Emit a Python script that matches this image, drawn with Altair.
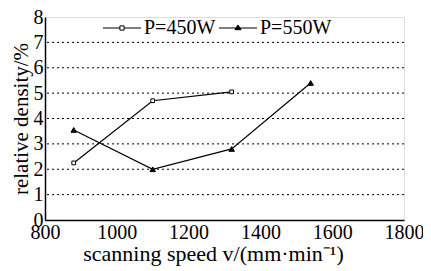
import altair as alt
import pandas as pd

series_names = ["P=450W", "P=550W"]
speed_450 = [880, 1100, 1320]
dens_450 = [2.25, 4.7, 5.05]
speed_550 = [880, 1100, 1320, 1540]
dens_550 = [3.55, 2.0, 2.8, 5.4]
x_ticks = [800, 1000, 1200, 1400, 1600, 1800]
y_ticks = [0, 1, 2, 3, 4, 5, 6, 7, 8]
grid_vals = [1, 2, 3, 4, 5, 6, 7]

rows = []
for s, d in zip(speed_450, dens_450):
    rows.append({"speed": s, "density": d, "series": series_names[0]})
for s, d in zip(speed_550, dens_550):
    rows.append({"speed": s, "density": d, "series": series_names[1]})
df = pd.DataFrame(rows)
grid_df = pd.DataFrame({"g": grid_vals})

FONT = "Liberation Serif"

x_scale = alt.Scale(domain=[800, 1800], nice=False)
y_scale = alt.Scale(domain=[0, 8], nice=False)

x_axis = alt.Axis(values=x_ticks, format="d", title="scanning speed v/(mm·min⁻¹)", grid=False,
                  ticks=False, domain=True, domainColor="black", domainWidth=1.5,
                  labelPadding=2, titlePadding=1, labelOverlap=False,
                  labelFontSize=20, titleFontSize=22, labelFont=FONT, titleFont=FONT,
                  labelColor="black", titleColor="black", titleFontWeight="normal",
                  labelFlush=False, titleX=168)
y_axis = alt.Axis(values=y_ticks, tickCount=9, format="d", title="relative density/%", grid=False,
                  ticks=False, domain=True, domainColor="black", domainWidth=1.5,
                  labelPadding=2, titlePadding=2, labelOverlap=False,
                  labelFontSize=20, titleFontSize=21, labelFont=FONT, titleFont=FONT,
                  labelColor="black", titleColor="black", titleFontWeight="normal",
                  labelFlush=False)

grid = alt.Chart(grid_df).mark_rule(color="black", strokeDash=[2, 3], strokeWidth=1).encode(
    y=alt.Y("g:Q", scale=y_scale, axis=y_axis))

base = alt.Chart(df)

lines = base.mark_line(color="black", strokeWidth=1.2).encode(
    x=alt.X("speed:Q", scale=x_scale, axis=x_axis),
    y=alt.Y("density:Q", scale=y_scale, axis=y_axis),
    detail="series:N", order="speed:Q")

points = base.mark_point(stroke="black", strokeWidth=1, opacity=1).encode(
    x="speed:Q", y="density:Q",
    shape=alt.Shape("series:N", scale=alt.Scale(domain=series_names, range=["square", "triangle-up"]), legend=None),
    fill=alt.Fill("series:N", scale=alt.Scale(domain=series_names, range=["white", "black"]), legend=None),
    size=alt.Size("series:N", scale=alt.Scale(domain=series_names, range=[14, 30]), legend=None),
)

path_450 = "M-1,0L-0.11,0M-0.11,-0.11L0.11,-0.11L0.11,0.11L-0.11,0.11ZM0.11,0L1,0"
path_550 = "M-1,0L1,0M0,-0.16L0.16,0.09L-0.16,0.09Z"

legend_layer = base.transform_filter("false").mark_point(opacity=1, strokeWidth=1).encode(
    x="speed:Q", y="density:Q",
    shape=alt.Shape("series:N", scale=alt.Scale(domain=series_names, range=[path_450, path_550]),
                    legend=alt.Legend(title=None, orient="none", legendX=57, legendY=-9,
                                      direction="horizontal", symbolSize=1450, symbolOpacity=1,
                                      symbolStrokeWidth=1,
                                      labelFont=FONT, labelFontSize=20, labelColor="black",
                                      labelOffset=2, columnPadding=0, symbolOffset=0)),
    fill=alt.Fill("series:N", scale=alt.Scale(domain=series_names, range=["white", "black"])),
    stroke=alt.Stroke("series:N", scale=alt.Scale(domain=series_names, range=["black", "black"])),
)

chart = alt.layer(grid, lines, points, legend_layer).resolve_scale(
    shape="independent", fill="independent", size="independent", stroke="independent"
).properties(
    width=359, height=203,
    autosize=alt.AutoSizeParams(type="none"),
    padding={"left": 37, "top": 9, "right": 19, "bottom": 47},
).configure_view(stroke="black", strokeWidth=1.5).configure_axis(
    labelOverlap=False
).configure(background="white")

chart.save("out.html", embed_options={"renderer": "svg", "actions": False})
